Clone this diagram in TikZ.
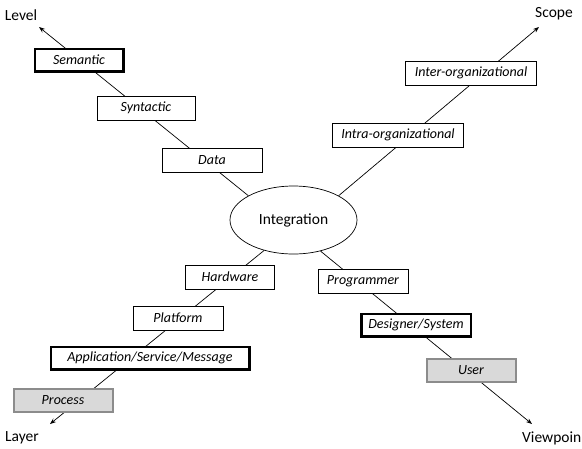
\documentclass[tikz,border=0pt]{standalone}
\usepackage{fontspec}
\setmainfont{Carlito}
\usetikzlibrary{arrows.meta,shapes.geometric}
\definecolor{boxgray}{HTML}{D9D9D9}
\definecolor{edgegray}{HTML}{8C8C8C}
\begin{document}
\begin{tikzpicture}[x=1pt, y=-1pt, >={Stealth[length=6pt,width=4.5pt]},
  axis/.style={line width=0.7pt, ->},
  box/.style={draw, fill=white, line width=0.7pt, minimum height=24pt, inner sep=0pt,
    font=\itshape\fontsize{14}{16}\selectfont},
  keybox/.style={box, line width=2.5pt, minimum height=22.5pt},
  endbox/.style={box, draw=edgegray, fill=boxgray, line width=2pt, minimum height=23pt},
  axislabel/.style={inner sep=0pt, font=\fontsize{15.5}{18}\selectfont}]
\useasboundingbox (0,0) rectangle (582,448);

% centre
\node[draw, ellipse, line width=0.7pt, minimum width=127pt, minimum height=68pt, inner sep=0pt,
  font=\fontsize{15.5}{18}\selectfont] (integ) at (293.5,220) {Integration};

% axis ends
\coordinate (levelTip) at (39,27);
\coordinate (scopeTip) at (539,27);
\coordinate (layerTip) at (50,424);
\coordinate (viewTip) at (532,424);
\node[axislabel] (level) at (21,15) {Level};
\node[axislabel] (scope) at (554,14) {Scope};
\node[axislabel] (layer) at (22,438) {Layer};
\node[axislabel, anchor=west] (view) at (522,438) {Viewpoin};

% axes
\draw[axis] (integ.north west) -- (levelTip);
\draw[axis] (integ.north east) -- (scopeTip);
\draw[axis] (integ.226) -- (layerTip);
\draw[axis] (integ.311) -- (viewTip);

% Level
\node[box, minimum width=100pt] (data) at (212,160) {Data};
\node[box, minimum width=98pt] (syntactic) at (146,108) {Syntactic};
\node[keybox, minimum width=88.5pt] (semantic) at (79,60) {Semantic};

% Scope
\node[box, minimum width=131pt] (intra) at (398,135) {Intra-organizational};
\node[box, minimum width=131pt] (inter) at (471,73) {Inter-organizational};

% Layer
\node[box, minimum width=89pt] (hardware) at (230,277) {Hardware};
\node[box, minimum width=90pt] (platform) at (178,318) {Platform};
\node[keybox, minimum width=198.5pt] (application) at (150,358) {Application/Service/Message};
\node[endbox, minimum width=99pt] (process) at (63,400) {Process};

% Viewpoint
\node[box, minimum width=90pt] (programmer) at (363,281) {Programmer};
\node[keybox, minimum width=109.5pt] (designer) at (416,325) {Designer/System};
\node[endbox, minimum width=89pt] (user) at (471,370) {User};
\end{tikzpicture}
\end{document}
